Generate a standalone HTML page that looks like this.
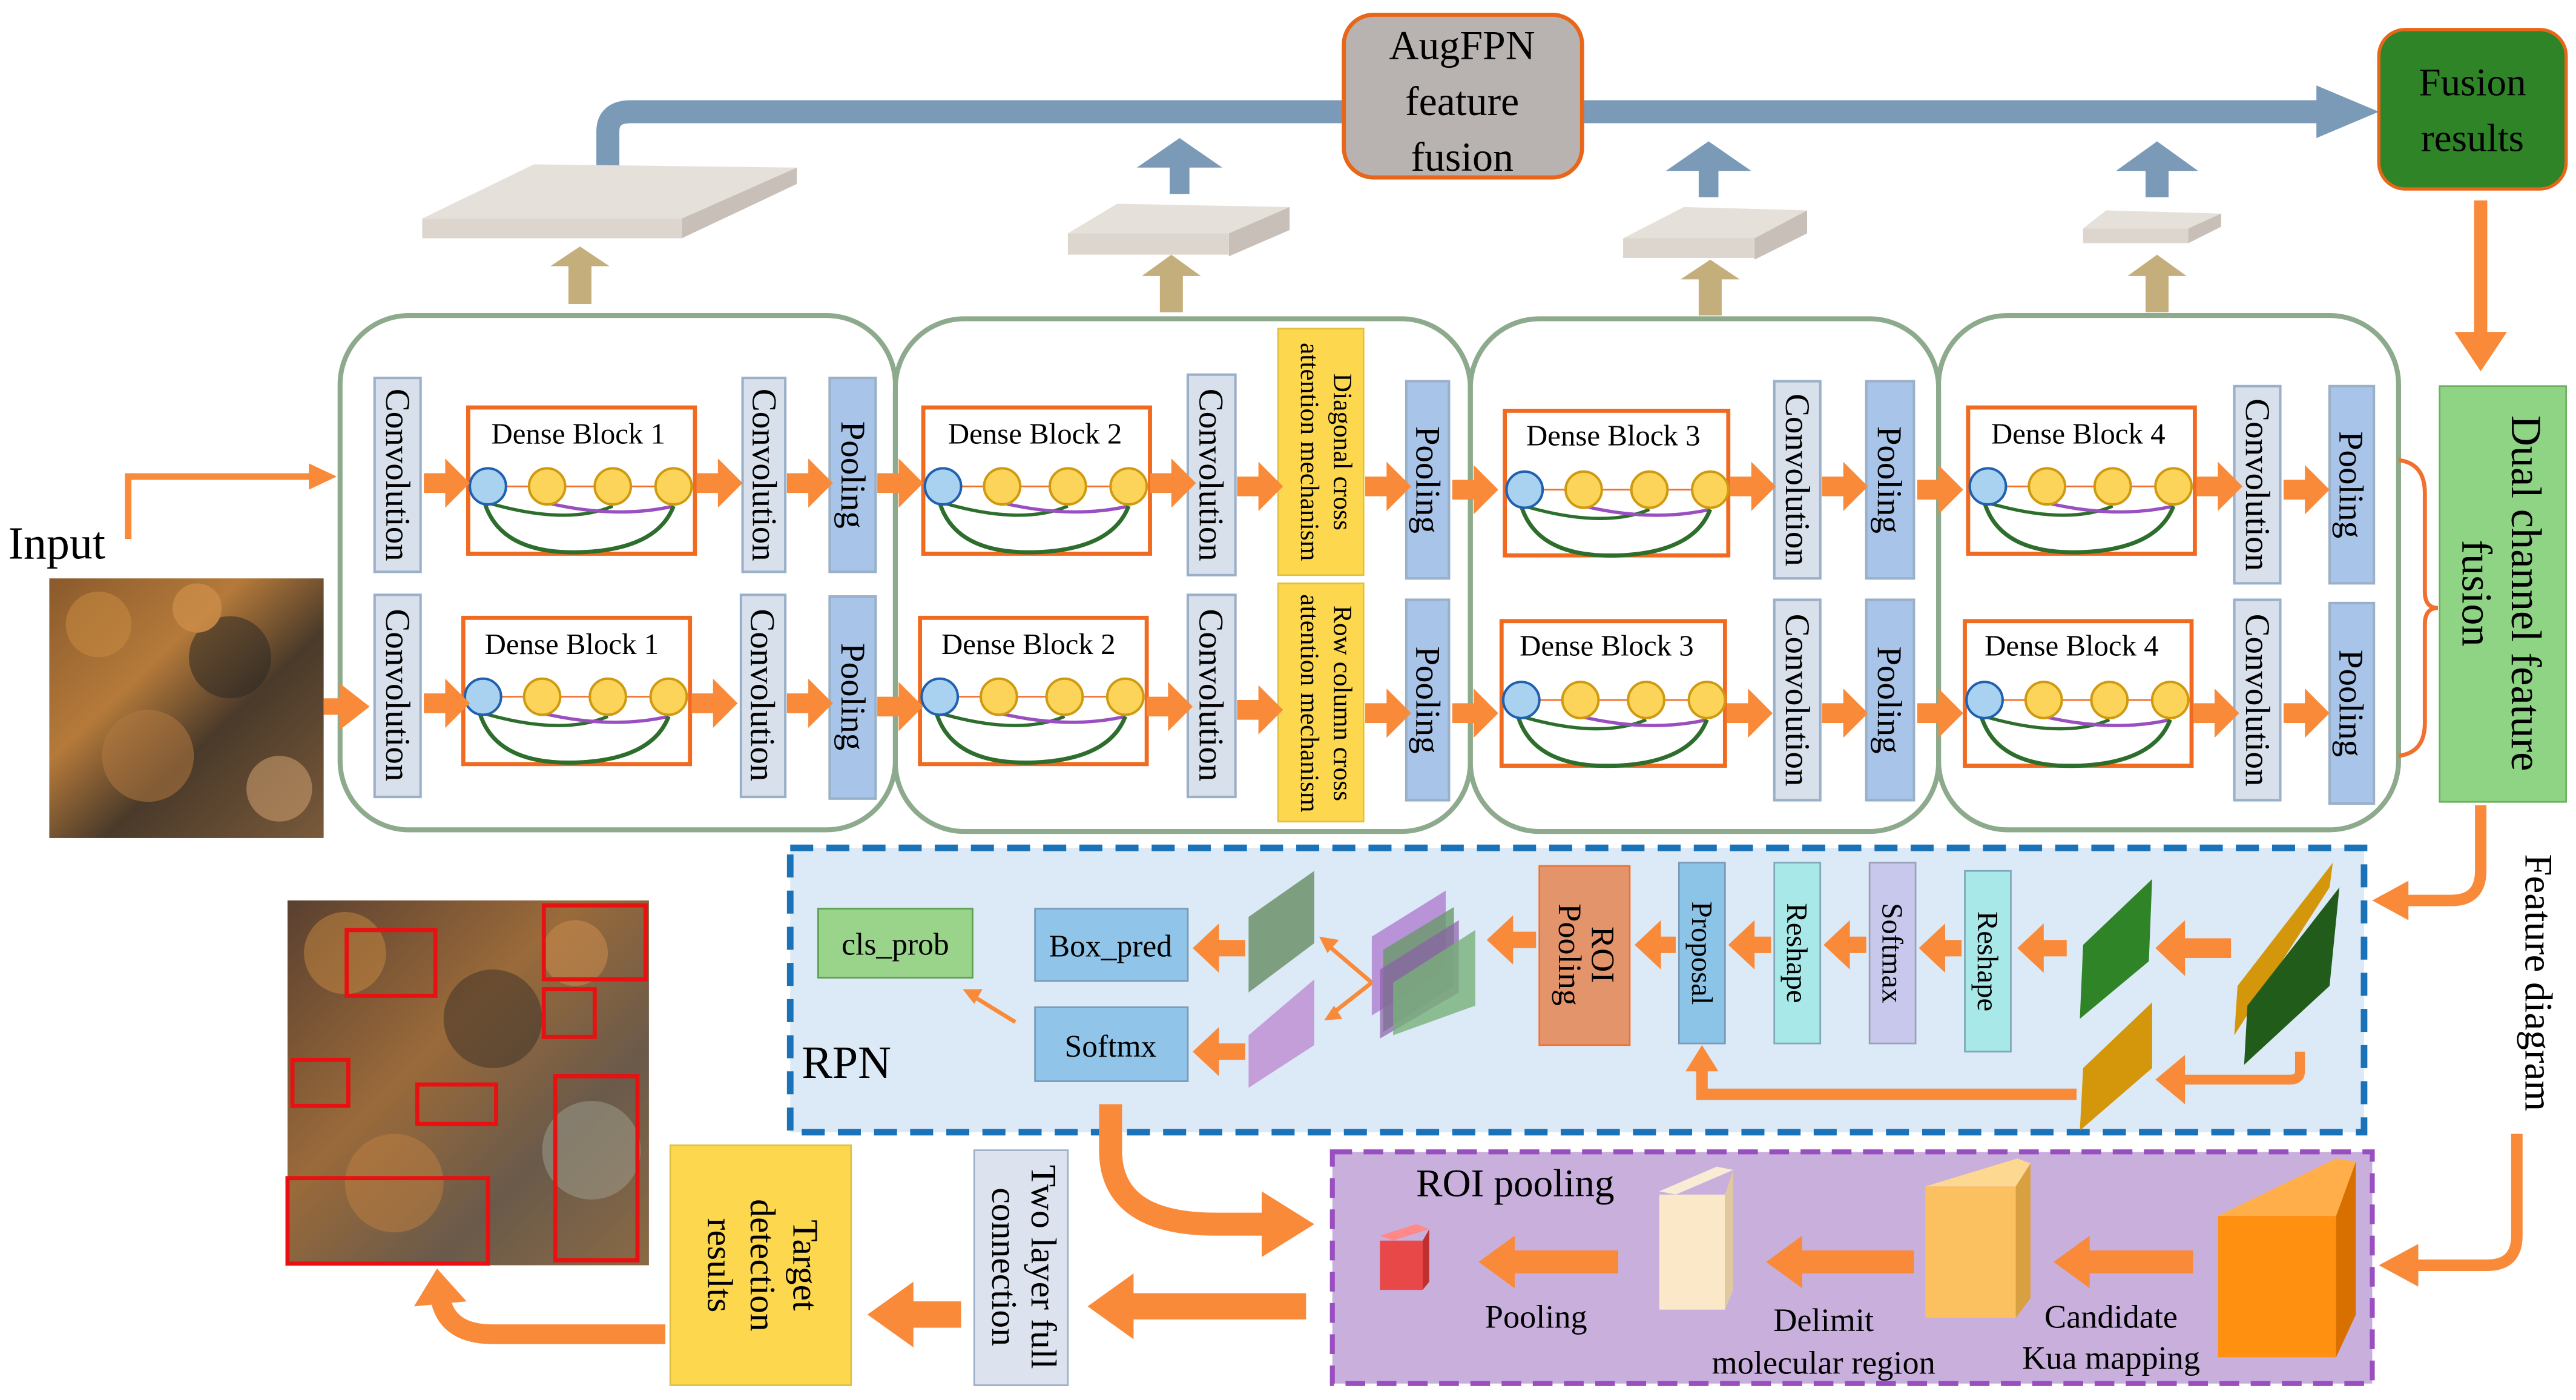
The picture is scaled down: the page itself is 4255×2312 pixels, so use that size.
<!DOCTYPE html>
<html><head><meta charset="utf-8"><style>
html,body{margin:0;padding:0;background:#fff;}
svg{display:block;}
text{font-family:"Liberation Serif",serif;fill:#000;}
</style></head><body>
<svg width="4255" height="2312" viewBox="0 0 1568 852" xmlns="http://www.w3.org/2000/svg">
<defs>
<path id="ar" d="M0,-6 H13 V-15 L28,0 L13,15 V6 H0Z" fill="#f88a3a"/>
<g id="db">
 <line x1="22" y1="48" x2="125" y2="48" stroke="#f07030" stroke-width="1"/>
 <path d="M12,58 Q60,72 88,60" fill="none" stroke="#2d6e2d" stroke-width="2"/>
 <path d="M48,58 Q90,68 125,60" fill="none" stroke="#9a4fc0" stroke-width="2"/>
 <path d="M10,58 Q20,90 70,88 Q115,86 125,60" fill="none" stroke="#2d6e2d" stroke-width="2.5"/>
 <circle cx="12" cy="48" r="11" fill="#a9d1f0" stroke="#2060b0" stroke-width="1.5"/>
 <circle cx="48" cy="48" r="11" fill="#fcd45a" stroke="#d09a10" stroke-width="1.5"/>
 <circle cx="88" cy="48" r="11" fill="#fcd45a" stroke="#d09a10" stroke-width="1.5"/>
 <circle cx="125" cy="48" r="11" fill="#fcd45a" stroke="#d09a10" stroke-width="1.5"/>
</g>
<linearGradient id="forest" x1="0" y1="0" x2="1" y2="1">
 <stop offset="0" stop-color="#8a5a2c"/><stop offset="0.35" stop-color="#b57a3a"/>
 <stop offset="0.6" stop-color="#4a3a2a"/><stop offset="1" stop-color="#7a5a3a"/>
</linearGradient>
<linearGradient id="forest2" x1="0" y1="0" x2="1" y2="1">
 <stop offset="0" stop-color="#5a4030"/><stop offset="0.4" stop-color="#9a6a3a"/>
 <stop offset="0.7" stop-color="#6a5a4a"/><stop offset="1" stop-color="#8a6a45"/>
</linearGradient>
</defs>

<!-- top blue arrow -->
<path d="M370,120 V80 Q370,68 384,68 H1412" fill="none" stroke="#7b9ab8" stroke-width="14"/>
<polygon points="1410,52 1448,68 1410,84" fill="#7b9ab8"/>
<!-- AugFPN -->
<rect x="818" y="9" width="145" height="99" rx="18" fill="#b8b3b0" stroke="#e8661a" stroke-width="2.5"/>
<text x="890" y="36" font-size="25" text-anchor="middle">AugFPN</text>
<text x="890" y="70" font-size="25" text-anchor="middle">feature</text>
<text x="890" y="104" font-size="25" text-anchor="middle">fusion</text>
<!-- Fusion results -->
<rect x="1448" y="18" width="114" height="97" rx="16" fill="#2e8427" stroke="#e8661a" stroke-width="2"/>
<text x="1505" y="58" font-size="24" text-anchor="middle">Fusion</text>
<text x="1505" y="92" font-size="24" text-anchor="middle">results</text>

<!-- slabs (3D boxes) -->
<polygon points="257,133 415,133 485,102 325,100" fill="#e6e0da"/><polygon points="415,133 485,102 485,112 415,145" fill="#c8c0b8"/><rect x="257" y="133" width="158" height="12" fill="#dcd6cf"/>
<polygon points="650,142 748,142 785,126 680,124" fill="#e6e0da"/><polygon points="748,142 785,126 785,140 748,156" fill="#c8c0b8"/><rect x="650" y="142" width="98" height="13" fill="#dcd6cf"/>
<polygon points="988,145 1068,145 1100,128 1025,126" fill="#e6e0da"/><polygon points="1068,145 1100,128 1100,142 1068,158" fill="#c8c0b8"/><rect x="988" y="145" width="80" height="12" fill="#dcd6cf"/>
<polygon points="1268,139 1332,139 1352,130 1282,128" fill="#e6e0da"/><polygon points="1332,139 1352,130 1352,138 1332,148" fill="#c8c0b8"/><rect x="1268" y="139" width="64" height="9" fill="#dcd6cf"/>
<!-- tan up arrows -->
<g fill="#c4af7c">
<polygon points="346,185 346,162 335,162 353,150 371,162 360,162 360,185"/>
<polygon points="706,190 706,168 695,168 713,155 731,168 720,168 720,190"/>
<polygon points="1034,192 1034,170 1023,170 1041,158 1059,170 1048,170 1048,192"/>
<polygon points="1306,190 1306,168 1295,168 1313,155 1331,168 1320,168 1320,190"/>
</g>
<!-- blue up arrows -->
<g fill="#7b9ab8">
<polygon points="712,118 712,102 692,102 718,84 744,102 724,102 724,118"/>
<polygon points="1034,120 1034,104 1014,104 1040,86 1066,104 1046,104 1046,120"/>
<polygon points="1306,120 1306,104 1288,104 1313,86 1338,104 1320,104 1320,120"/>
</g>

<!-- group rounded boxes -->
<g fill="none" stroke="#8eaa8c" stroke-width="3">
<rect x="207" y="192" width="338" height="313" rx="42"/>
<rect x="545" y="194" width="350" height="312" rx="42"/>
<rect x="895" y="194" width="285" height="312" rx="42"/>
<rect x="1180" y="192" width="280" height="313" rx="42"/>
</g>

<!-- conv / pool boxes -->
<g stroke="#9ab0c8" stroke-width="1.5">
<rect x="228" y="230" width="28" height="118" fill="#d8e0ec"/><rect x="228" y="362" width="28" height="123" fill="#d8e0ec"/>
<rect x="452" y="230" width="26" height="118" fill="#d8e0ec"/><rect x="451" y="362" width="27" height="123" fill="#d8e0ec"/>
<rect x="505" y="230" width="28" height="118" fill="#a8c4e8"/><rect x="505" y="363" width="28" height="123" fill="#a8c4e8"/>
<rect x="723" y="228" width="29" height="122" fill="#d8e0ec"/><rect x="723" y="362" width="29" height="123" fill="#d8e0ec"/>
<rect x="856" y="232" width="26" height="120" fill="#a8c4e8"/><rect x="856" y="365" width="26" height="122" fill="#a8c4e8"/>
<rect x="1080" y="232" width="28" height="120" fill="#d8e0ec"/><rect x="1080" y="365" width="28" height="122" fill="#d8e0ec"/>
<rect x="1136" y="232" width="29" height="120" fill="#a8c4e8"/><rect x="1136" y="365" width="29" height="122" fill="#a8c4e8"/>
<rect x="1360" y="235" width="28" height="120" fill="#d8e0ec"/><rect x="1360" y="365" width="28" height="122" fill="#d8e0ec"/>
<rect x="1418" y="235" width="27" height="120" fill="#a8c4e8"/><rect x="1418" y="367" width="27" height="122" fill="#a8c4e8"/>
</g>
<rect x="778" y="200" width="52" height="150" fill="#fdd84e" stroke="#e0c040"/>
<rect x="778" y="355" width="52" height="145" fill="#fdd84e" stroke="#e0c040"/>

<g font-size="21" text-anchor="middle">
<text transform="translate(242,289) rotate(90)" dominant-baseline="central">Convolution</text>
<text transform="translate(242,423) rotate(90)" dominant-baseline="central">Convolution</text>
<text transform="translate(465,289) rotate(90)" dominant-baseline="central">Convolution</text>
<text transform="translate(464,423) rotate(90)" dominant-baseline="central">Convolution</text>
<text transform="translate(519,289) rotate(90)" dominant-baseline="central">Pooling</text>
<text transform="translate(519,424) rotate(90)" dominant-baseline="central">Pooling</text>
<text transform="translate(737,289) rotate(90)" dominant-baseline="central">Convolution</text>
<text transform="translate(737,423) rotate(90)" dominant-baseline="central">Convolution</text>
<text transform="translate(869,292) rotate(90)" dominant-baseline="central">Pooling</text>
<text transform="translate(869,426) rotate(90)" dominant-baseline="central">Pooling</text>
<text transform="translate(1094,292) rotate(90)" dominant-baseline="central">Convolution</text>
<text transform="translate(1094,426) rotate(90)" dominant-baseline="central">Convolution</text>
<text transform="translate(1150,292) rotate(90)" dominant-baseline="central">Pooling</text>
<text transform="translate(1150,426) rotate(90)" dominant-baseline="central">Pooling</text>
<text transform="translate(1374,295) rotate(90)" dominant-baseline="central">Convolution</text>
<text transform="translate(1374,426) rotate(90)" dominant-baseline="central">Convolution</text>
<text transform="translate(1431,295) rotate(90)" dominant-baseline="central">Pooling</text>
<text transform="translate(1431,428) rotate(90)" dominant-baseline="central">Pooling</text>
</g>
<g font-size="16" text-anchor="middle">
<text transform="translate(804,275) rotate(90)" y="-8">Diagonal cross</text>
<text transform="translate(804,275) rotate(90)" y="12">attention mechanism</text>
<text transform="translate(804,428) rotate(90)" y="-8">Row column cross</text>
<text transform="translate(804,428) rotate(90)" y="12">attention mechanism</text>
</g>

<!-- dense blocks -->
<g fill="#fff" stroke="#f06a20" stroke-width="2.5">
<rect x="285" y="248" width="138" height="89"/><rect x="282" y="376" width="138" height="89"/>
<rect x="562" y="248" width="138" height="89"/><rect x="560" y="376" width="138" height="89"/>
<rect x="916" y="250" width="136" height="88"/><rect x="914" y="378" width="136" height="88"/>
<rect x="1198" y="248" width="138" height="89"/><rect x="1196" y="378" width="138" height="88"/>
</g>
<use href="#db" x="285" y="248"/><use href="#db" x="282" y="376"/>
<use href="#db" x="562" y="248"/><use href="#db" x="560" y="376"/>
<use href="#db" x="916" y="250"/><use href="#db" x="914" y="378"/>
<use href="#db" x="1198" y="248"/><use href="#db" x="1196" y="378"/>
<g font-size="18" text-anchor="middle">
<text x="352" y="270">Dense Block 1</text><text x="348" y="398">Dense Block 1</text>
<text x="630" y="270">Dense Block 2</text><text x="626" y="398">Dense Block 2</text>
<text x="982" y="271">Dense Block 3</text><text x="978" y="399">Dense Block 3</text>
<text x="1265" y="270">Dense Block 4</text><text x="1261" y="399">Dense Block 4</text>
</g>

<!-- row arrows -->
<g>
<use href="#ar" x="258" y="294"/><use href="#ar" x="424" y="294"/><use href="#ar" x="479" y="294"/><use href="#ar" x="534" y="294"/>
<use href="#ar" x="258" y="428"/><use href="#ar" x="421" y="428"/><use href="#ar" x="479" y="428"/><use href="#ar" x="534" y="430"/>
<use href="#ar" x="700" y="294"/><use href="#ar" x="753" y="296"/><use href="#ar" x="831" y="296"/><use href="#ar" x="884" y="298"/>
<use href="#ar" x="698" y="430"/><use href="#ar" x="753" y="432"/><use href="#ar" x="831" y="434"/><use href="#ar" x="884" y="434"/>
<use href="#ar" x="1053" y="296"/><use href="#ar" x="1109" y="296"/><use href="#ar" x="1167" y="298"/><use href="#ar" x="1337" y="296"/><use href="#ar" x="1390" y="298"/>
<use href="#ar" x="1051" y="434"/><use href="#ar" x="1109" y="434"/><use href="#ar" x="1167" y="434"/><use href="#ar" x="1335" y="434"/><use href="#ar" x="1390" y="434"/>
</g>
<!-- brace -->
<path d="M1460,280 Q1476,282 1476,300 V360 Q1476,370 1484,370 Q1476,370 1476,380 V440 Q1476,458 1460,460" fill="none" stroke="#f07030" stroke-width="2.5"/>
<!-- dual channel -->
<rect x="1485" y="235" width="77" height="253" fill="#8fd484" stroke="#6ab05e"/>
<g font-size="26" text-anchor="middle">
<text transform="translate(1523,361) rotate(90)" y="-6">Dual channel feature</text>
<text transform="translate(1523,361) rotate(90)" y="24">fusion</text>
</g>
<!-- Fusion -> dual arrow -->
<rect x="1506" y="122" width="8" height="82" fill="#f88a3a"/><polygon points="1494,202 1526,202 1510,226" fill="#f88a3a"/>

<!-- input -->
<text x="5" y="340" font-size="28">Input</text>
<path d="M78,328 V290 H190" fill="none" stroke="#f88a3a" stroke-width="4"/>
<polygon points="188,282 205,290 188,298" fill="#f88a3a"/>
<rect x="30" y="352" width="167" height="158" fill="url(#forest)"/>
<g opacity="0.55"><circle cx="60" cy="380" r="20" fill="#c88a40"/><circle cx="140" cy="400" r="25" fill="#2e2a25"/><circle cx="90" cy="460" r="28" fill="#b07840"/><circle cx="170" cy="480" r="20" fill="#d0a070"/><circle cx="120" cy="370" r="15" fill="#d89850"/></g>
<rect x="197" y="425" width="12" height="10" fill="#f88a3a"/><polygon points="207,416 225,430 207,444" fill="#f88a3a"/>

<!-- feature diagram label and arrows -->
<text transform="translate(1545,598) rotate(90)" font-size="24" text-anchor="middle" dominant-baseline="central">Feature diagram</text>
<path d="M1510,490 V530 Q1510,548 1492,548 H1465" fill="none" stroke="#f88a3a" stroke-width="7"/>
<polygon points="1466,536 1444,548 1466,560" fill="#f88a3a"/>
<path d="M1532,690 V752 Q1532,770 1514,770 H1470" fill="none" stroke="#f88a3a" stroke-width="7"/>
<polygon points="1472,757 1448,770 1472,783" fill="#f88a3a"/>

<!-- RPN -->
<rect x="481" y="516" width="958" height="173" fill="#dce9f6" stroke="#1a72b8" stroke-width="4" stroke-dasharray="14,8"/>
<text x="488" y="656" font-size="28">RPN</text>
<rect x="498" y="553" width="94" height="42" fill="#9ad48a" stroke="#5aa050"/>
<text x="545" y="581" font-size="19" text-anchor="middle">cls_prob</text>
<rect x="630" y="553" width="93" height="44" fill="#90c4e8" stroke="#7a9ab8"/>
<text x="676" y="582" font-size="19" text-anchor="middle">Box_pred</text>
<rect x="630" y="613" width="93" height="45" fill="#90c4e8" stroke="#7a9ab8"/>
<text x="676" y="643" font-size="19" text-anchor="middle">Softmx</text>
<line x1="618" y1="622" x2="592" y2="606" stroke="#f88a3a" stroke-width="2.5"/><polygon points="586,602 598,602 593,611" fill="#f88a3a"/>
<polygon points="760,558 800,530 800,574 760,604" fill="#7e9e80"/>
<polygon points="760,630 800,596 800,636 760,662" fill="#c39ed8"/>
<polygon points="835,570 880,542 880,590 835,618" fill="#b48ad4" opacity="0.9"/>
<polygon points="842,578 885,552 885,600 842,628" fill="#6a9a6a" opacity="0.8"/>
<polygon points="840,590 888,560 888,604 840,632" fill="#8a60a8" opacity="0.7"/>
<polygon points="848,598 898,566 898,612 848,630" fill="#78b078" opacity="0.8"/>
<line x1="835" y1="598" x2="808" y2="575" stroke="#f88a3a" stroke-width="2.5"/><polygon points="803,570 815,572 808,580" fill="#f88a3a"/>
<line x1="835" y1="598" x2="812" y2="616" stroke="#f88a3a" stroke-width="2.5"/><polygon points="806,621 812,612 817,620" fill="#f88a3a"/>
<rect x="937" y="527" width="55" height="109" fill="#e4946a" stroke="#f07030"/>
<text transform="translate(964,581) rotate(90)" font-size="20" text-anchor="middle" y="-5">ROI</text>
<text transform="translate(964,581) rotate(90)" font-size="20" text-anchor="middle" y="15">Pooling</text>
<rect x="1022" y="525" width="28" height="110" fill="#8cc4e8" stroke="#7a9ab8"/>
<rect x="1080" y="525" width="28" height="110" fill="#a8e8e8" stroke="#80a8b8"/>
<rect x="1138" y="525" width="28" height="110" fill="#c8c8ec" stroke="#9aa0b8"/>
<rect x="1196" y="530" width="28" height="110" fill="#a8e8e8" stroke="#80a8b8"/>
<g font-size="18" text-anchor="middle">
<text transform="translate(1036,580) rotate(90)" dominant-baseline="central">Proposal</text>
<text transform="translate(1094,580) rotate(90)" dominant-baseline="central">Reshape</text>
<text transform="translate(1152,580) rotate(90)" dominant-baseline="central">Softmax</text>
<text transform="translate(1210,585) rotate(90)" dominant-baseline="central">Reshape</text>
</g>
<polygon points="1268,575 1310,535 1308,585 1266,620" fill="#2e8427"/>
<polygon points="1268,650 1310,610 1310,650 1266,688" fill="#d4960a"/>
<polygon points="1362,600 1420,525 1418,540 1360,630" fill="#d4960a"/>
<polygon points="1368,612 1424,540 1418,600 1366,648" fill="#215c1a"/>
<g fill="#f88a3a">
<polygon points="758,572 742,572 742,562 726,577 742,592 742,582 758,582"/>
<polygon points="758,635 742,635 742,625 726,640 742,655 742,645 758,645"/>
<polygon points="935,567 921,567 921,557 905,572 921,587 921,577 935,577"/>
<polygon points="1020,570 1011,570 1011,560 995,575 1011,590 1011,580 1020,580"/>
<polygon points="1078,570 1068,570 1068,560 1052,575 1068,590 1068,580 1078,580"/>
<polygon points="1136,570 1126,570 1126,560 1110,575 1126,590 1126,580 1136,580"/>
<polygon points="1194,572 1184,572 1184,562 1168,577 1184,592 1184,582 1194,582"/>
<polygon points="1258,572 1244,572 1244,562 1228,577 1244,592 1244,582 1258,582"/>
<polygon points="1358,571 1330,571 1330,560 1312,577 1330,594 1330,583 1358,583"/>
<polygon points="1330,642 1312,657 1330,672"/>
</g>
<path d="M1264,666 H1036 V650" fill="none" stroke="#f88a3a" stroke-width="7"/>
<polygon points="1026,652 1036,636 1046,652" fill="#f88a3a"/>
<path d="M1400,640 V652 Q1400,657 1394,657 H1328" fill="none" stroke="#f88a3a" stroke-width="6"/>

<!-- ROI pooling -->
<rect x="811" y="701" width="633" height="141" fill="#c9b0dc" stroke="#9a4fc0" stroke-width="3" stroke-dasharray="12,7"/>
<text x="862" y="728" font-size="24">ROI pooling</text>
<polygon points="840,752 862,745 870,748 848,755" fill="#f88"/><rect x="840" y="755" width="26" height="30" fill="#e84848"/><polygon points="866,755 870,748 870,780 866,785" fill="#c03030"/>
<polygon points="1010,725 1045,710 1055,712 1020,727" fill="#f8ecd4"/><rect x="1010" y="727" width="40" height="70" fill="#fbe8c8"/><polygon points="1050,727 1055,712 1055,785 1050,797" fill="#e0c8a0"/>
<rect x="1172" y="722" width="55" height="80" fill="#fbc060"/><polygon points="1172,722 1228,705 1236,708 1227,722" fill="#fdd890"/><polygon points="1227,722 1236,708 1236,790 1227,802" fill="#d8a040"/>
<rect x="1350" y="740" width="72" height="86" fill="#ff9010"/><polygon points="1350,740 1422,705 1434,707 1422,740" fill="#ffae4a"/><polygon points="1422,740 1434,707 1434,800 1422,826" fill="#d87000"/>
<g fill="#f88a3a">
<polygon points="1335,761 1272,761 1272,752 1250,768 1272,784 1272,775 1335,775"/>
<polygon points="1165,761 1097,761 1097,752 1075,768 1097,784 1097,775 1165,775"/>
<polygon points="985,761 922,761 922,752 900,768 922,784 922,775 985,775"/>
</g>
<g font-size="20" text-anchor="middle">
<text x="935" y="808">Pooling</text>
<text x="1110" y="810">Delimit</text><text x="1110" y="836">molecular region</text>
<text x="1285" y="808">Candidate</text><text x="1285" y="833">Kua mapping</text>
</g>

<!-- big curved arrow from Softmx -->
<path d="M676,672 V700 Q676,745 740,745 H770" fill="none" stroke="#f88a3a" stroke-width="14"/>
<polygon points="768,725 800,745 768,765" fill="#f88a3a"/>
<rect x="593" y="700" width="57" height="143" fill="#dde3ee" stroke="#9ab0c8"/>
<text transform="translate(622,771) rotate(90)" font-size="22" text-anchor="middle" y="-6">Two layer full</text>
<text transform="translate(622,771) rotate(90)" font-size="22" text-anchor="middle" y="18">connection</text>
<polygon points="795,787 690,787 690,775 662,795 690,815 690,803 795,803" fill="#f88a3a"/>
<rect x="408" y="697" width="110" height="146" fill="#fdd84e" stroke="#e0c040"/>
<g font-size="22" text-anchor="middle">
<text transform="translate(463,770) rotate(90)" y="-20">Target</text>
<text transform="translate(463,770) rotate(90)" y="6">detection</text>
<text transform="translate(463,770) rotate(90)" y="32">results</text>
</g>
<polygon points="585,792 556,792 556,780 528,800 556,820 556,808 585,808" fill="#f88a3a"/>
<path d="M405,812 H300 Q272,812 268,790" fill="none" stroke="#f88a3a" stroke-width="12"/>
<polygon points="252,795 266,772 284,792" fill="#f88a3a"/>

<!-- output image -->
<rect x="175" y="548" width="220" height="222" fill="url(#forest2)"/>
<g opacity="0.5"><circle cx="210" cy="580" r="25" fill="#c88a40"/><circle cx="300" cy="620" r="30" fill="#3a3028"/><circle cx="240" cy="720" r="30" fill="#c08040"/><circle cx="360" cy="700" r="30" fill="#a0a090"/><circle cx="350" cy="580" r="20" fill="#d09050"/></g>
<g fill="none" stroke="#e81010" stroke-width="2.5">
<rect x="211" y="566" width="54" height="40"/><rect x="331" y="551" width="62" height="45"/><rect x="331" y="602" width="31" height="29"/>
<rect x="178" y="645" width="34" height="28"/><rect x="254" y="660" width="48" height="24"/><rect x="338" y="655" width="50" height="112"/>
<rect x="175" y="717" width="122" height="52"/>
</g>
</svg>
</body></html>
